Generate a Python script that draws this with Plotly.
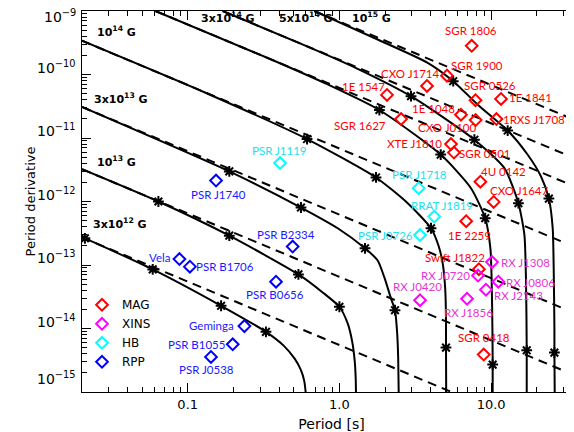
import numpy as np
import plotly.graph_objects as go

# ---------------- sources (period [s], period derivative) ----------------
MAG_NAMES = ["SGR 1806", "SGR 1900", "CXO J1714", "1E 1547", "SGR 1627", "SGR 0526",
             "1E 1841", "1E 1048", "1RXS J1708", "CXO J0100", "XTE J1810", "SGR 0501",
             "4U 0142", "CXO J1647", "1E 2259", "Swift J1822", "SGR 0418"]
MAG_P = [7.45, 5.12, 3.78, 2.06, 2.55, 7.89, 11.62, 6.33, 10.84, 7.91, 5.44, 5.69,
         8.50, 10.40, 6.85, 8.31, 8.94]
MAG_PDOT = [2.83e-10, 9.6e-11, 6.6e-11, 4.77e-11, 1.99e-11, 3.94e-11, 4.12e-11, 2.33e-11,
            1.99e-11, 1.92e-11, 8.04e-12, 5.89e-12, 2.05e-12, 9.86e-13, 4.89e-13,
            8.59e-14, 3.88e-15]

XINS_NAMES = ["RX J1308", "RX J0720", "RX J0806", "RX J2143", "RX J1856", "RX J0420"]
XINS_P = [10.14, 8.20, 11.17, 9.25, 6.94, 3.40]
XINS_PDOT = [1.11e-13, 6.81e-14, 5.46e-14, 4.09e-14, 2.94e-14, 2.79e-14]

HB_NAMES = ["PSR J1119", "PSR J1718", "RRAT J1819", "PSR J0726"]
HB_P = [0.406, 3.33, 4.22, 3.40]
HB_PDOT = [4.03e-12, 1.62e-12, 5.79e-13, 2.96e-13]

RPP_NAMES = ["PSR J1740", "PSR B2334", "PSR B1706", "Vela", "PSR B0656", "Geminga",
             "PSR B1055", "PSR J0538"]
RPP_P = [0.1537, 0.492, 0.1034, 0.0882, 0.382, 0.2365, 0.198, 0.1424]
RPP_PDOT = [2.14e-12, 1.95e-13, 9.42e-14, 1.24e-13, 5.46e-14, 1.09e-14, 5.64e-15, 3.56e-15]

# ---------------- evolutionary tracks (solid) ----------------
TRACK_3E12_P = [0.0201, 0.0210, 0.0588, 0.166, 0.328, 0.429, 0.507, 0.556, 0.586, 0.600]
TRACK_3E12_PDOT = [2.73e-13, 2.63e-13, 8.53e-14, 2.28e-14, 8.86e-15, 5.38e-15, 3.35e-15,
                   2.25e-15, 1.51e-15, 9.7e-16]
TRACK_1E13_P = [0.0201, 0.0641, 0.188, 0.537, 0.776, 1.000, 1.134, 1.214, 1.261, 1.281, 1.286]
TRACK_1E13_PDOT = [3.23e-12, 1.00e-12, 2.90e-13, 7.11e-14, 3.70e-14, 2.20e-14, 1.20e-14,
                   6.22e-15, 3.12e-15, 1.62e-15, 9.7e-16]
TRACK_3E13_P = [0.0201, 0.188, 0.558, 0.975, 1.475, 1.788, 1.989, 2.188, 2.325, 2.404,
                2.441, 2.460]
TRACK_3E13_PDOT = [3.08e-11, 2.98e-12, 8.04e-13, 3.79e-13, 1.83e-13, 1.18e-13, 6.15e-14,
                   2.97e-14, 1.94e-14, 8.33e-15, 3.35e-15, 9.7e-16]
TRACK_1E14_P = [0.0201, 0.1354, 0.612, 1.743, 2.820, 4.017, 4.514, 4.797, 4.982, 5.043,
                5.043, 5.058]
TRACK_1E14_PDOT = [3.40e-10, 4.98e-11, 9.63e-12, 2.39e-12, 9.40e-13, 3.79e-13, 1.97e-13,
                   1.06e-13, 4.27e-14, 1.44e-14, 5.00e-15, 9.7e-16]
TRACK_3E14_P = [0.0613, 0.337, 0.837, 1.835, 4.654, 7.370, 9.144, 9.894, 10.09, 10.20,
                10.24, 10.24]
TRACK_3E14_PDOT = [1.0e-9, 1.82e-10, 6.98e-11, 2.76e-11, 5.48e-12, 1.62e-12, 5.45e-13,
                   1.83e-13, 5.51e-14, 9.98e-15, 2.70e-15, 9.7e-16]
TRACK_5E14_P = [0.170, 0.618, 1.320, 2.965, 7.760, 12.24, 15.14, 16.58, 16.99, 17.17, 17.17]
TRACK_5E14_PDOT = [1.0e-9, 2.75e-10, 1.23e-10, 4.55e-11, 9.39e-12, 3.36e-12, 9.40e-13,
                   2.97e-13, 5.51e-14, 4.54e-15, 9.7e-16]
TRACK_1E15_P = [0.683, 1.788, 3.820, 5.627, 8.160, 12.86, 17.43, 21.33, 24.04, 25.47,
                25.86, 26.14, 26.14, 26.26]
TRACK_1E15_PDOT = [1.0e-9, 3.56e-10, 1.53e-10, 7.85e-11, 3.35e-11, 1.31e-11, 5.44e-12,
                   2.48e-12, 1.11e-12, 3.79e-13, 8.84e-14, 9.98e-15, 4.17e-15, 9.7e-16]

# ---------------- age markers (asterisks) on the tracks ----------------
AGE_P = [0.0210, 0.0588, 0.166, 0.328,
         0.0641, 0.188, 0.537, 1.000,
         0.188, 0.558, 1.475, 2.325,
         0.612, 1.743, 4.017, 5.043,
         1.835, 4.654, 9.144, 10.24,
         2.965, 7.760, 15.14, 17.17,
         5.627, 12.86, 24.04, 26.14]
AGE_PDOT = [2.63e-13, 8.53e-14, 2.28e-14, 8.86e-15,
            1.00e-12, 2.90e-13, 7.11e-14, 2.20e-14,
            2.98e-12, 8.04e-13, 1.83e-13, 1.94e-14,
            9.63e-12, 2.39e-12, 3.79e-13, 5.00e-15,
            2.76e-11, 5.48e-12, 5.45e-13, 2.70e-15,
            4.55e-11, 9.39e-12, 9.40e-13, 4.54e-15,
            7.85e-11, 1.31e-11, 1.11e-12, 4.17e-15]

# ---------------- constant-field lines (dashed), end points ----------------
ISOB_3E12_P, ISOB_3E12_PDOT = [0.0201, 5.63], [2.73e-13, 9.74e-16]
ISOB_1E13_P, ISOB_1E13_PDOT = [0.0201, 38.8], [3.23e-12, 1.68e-15]
ISOB_3E13_P, ISOB_3E13_PDOT = [0.0201, 38.8], [3.08e-11, 1.60e-14]
ISOB_1E14_P, ISOB_1E14_PDOT = [0.0201, 38.8], [3.40e-10, 1.76e-13]
ISOB_3E14_P, ISOB_3E14_PDOT = [0.0613, 38.8], [1.0e-9, 1.58e-12]
ISOB_5E14_P, ISOB_5E14_PDOT = [0.170, 38.8], [1.0e-9, 4.39e-12]
ISOB_1E15_P, ISOB_1E15_PDOT = [0.683, 38.8], [1.0e-9, 1.76e-11]

FIELD_LABELS = ["10<sup>14</sup> G", "3x10<sup>13</sup> G", "10<sup>13</sup> G",
                "3x10<sup>12</sup> G", "3x10<sup>14</sup> G", "5x10<sup>14</sup> G",
                "10<sup>15</sup> G"]

Y_TICK_EXP = [-9, -10, -11, -12, -13, -14, -15]

# ---------------- label placement (pixels, style only) ----------------
MAG_DX = [-1, 30, -17, -24, -41, 15, 30, -27, 38, -29, -36, 31, 23, 25, 3, -24, 0]
MAG_DY = [15, 10, 12, 8, -6, 15, 1, 6, 0, -7, 1, -1, 10, 11, -14, 12, 17]
XINS_DX = [33, -33, 32, 33, 1, -3]
XINS_DY = [0, 0, -1, -6, -14, 14]
HB_DX = [-1, 1, 8, -35]
HB_DY = [13, 14, 11, 0]
RPP_DX = [2, -7, 35, -20, -1, -33, -36, -4]
RPP_DY = [-14, 12, 0, 2, -13, 1, 0, -13]
FIELD_LABEL_POS = [(-1.468, -9.422), (-1.442, -10.480), (-1.468, -11.459), (-1.445, -12.438),
                   (-0.736, -9.200), (-0.222, -9.200), (0.213, -9.200)]

RED, MAGENTA, CYAN, BLUE = "#ff0000", "#ff00ff", "#00ffff", "#0000ff"

fig = go.Figure()

isob = [(ISOB_3E12_P, ISOB_3E12_PDOT), (ISOB_1E13_P, ISOB_1E13_PDOT),
        (ISOB_3E13_P, ISOB_3E13_PDOT), (ISOB_1E14_P, ISOB_1E14_PDOT),
        (ISOB_3E14_P, ISOB_3E14_PDOT), (ISOB_5E14_P, ISOB_5E14_PDOT),
        (ISOB_1E15_P, ISOB_1E15_PDOT)]
for px, py in isob:
    fig.add_trace(go.Scatter(x=px, y=py, mode="lines", showlegend=False,
                             line=dict(color="black", width=2, dash="9px,6px"),
                             hoverinfo="skip"))

tracks = [(TRACK_3E12_P, TRACK_3E12_PDOT), (TRACK_1E13_P, TRACK_1E13_PDOT),
          (TRACK_3E13_P, TRACK_3E13_PDOT), (TRACK_1E14_P, TRACK_1E14_PDOT),
          (TRACK_3E14_P, TRACK_3E14_PDOT), (TRACK_5E14_P, TRACK_5E14_PDOT),
          (TRACK_1E15_P, TRACK_1E15_PDOT)]
for px, py in tracks:
    fig.add_trace(go.Scatter(x=px, y=py, mode="lines", showlegend=False,
                             line=dict(color="black", width=2, shape="spline", smoothing=0.6),
                             hoverinfo="skip"))

fig.add_trace(go.Scatter(x=AGE_P, y=AGE_PDOT, mode="markers", showlegend=False,
                         marker=dict(symbol="asterisk-open", size=9, color="black",
                                     line=dict(color="black", width=2))))

groups = [("MAG", MAG_NAMES, MAG_P, MAG_PDOT, MAG_DX, MAG_DY, RED, RED),
          ("XINS", XINS_NAMES, XINS_P, XINS_PDOT, XINS_DX, XINS_DY, MAGENTA, "#e636d2"),
          ("HB", HB_NAMES, HB_P, HB_PDOT, HB_DX, HB_DY, CYAN, "#22e0f0"),
          ("RPP", RPP_NAMES, RPP_P, RPP_PDOT, RPP_DX, RPP_DY, BLUE, "#1a1aff")]

annotations = []
for name, names, ps, pds, dxs, dys, col, tcol in groups:
    fig.add_trace(go.Scatter(x=ps, y=pds, mode="markers", name=name,
                             marker=dict(symbol="diamond-open", size=9, color=col,
                                         line=dict(color=col, width=2))))
    for n, p, pd_, dx, dy in zip(names, ps, pds, dxs, dys):
        annotations.append(dict(x=np.log10(p), y=np.log10(pd_), xref="x", yref="y",
                                text=n, showarrow=False, xshift=dx, yshift=dy,
                                font=dict(family="Lato", size=11.5, color=tcol)))

for txt, (lx, ly) in zip(FIELD_LABELS, FIELD_LABEL_POS):
    annotations.append(dict(x=lx, y=ly, xref="x", yref="y", text="<b>" + txt + "</b>",
                            showarrow=False, yshift=6,
                            font=dict(family="DejaVu Sans", size=11, color="black")))

for e in Y_TICK_EXP:
    shift = 8
    if e == -9:
        shift = -5
    if e == -15:
        shift = 14
    annotations.append(dict(x=0, y=e, xref="paper", yref="y", xanchor="right",
                            yanchor="middle", xshift=-4, yshift=shift,
                            text="10<sup>\u2212%d</sup>" % (-e), showarrow=False,
                            font=dict(family="DejaVu Sans", size=14, color="black")))

fig.update_layout(
    width=574, height=432,
    margin=dict(l=74, r=1, t=3, b=48),
    paper_bgcolor="white", plot_bgcolor="white",
    annotations=annotations,
    legend=dict(x=0.0, y=0.267, xanchor="left", yanchor="top",
                bgcolor="rgba(0,0,0,0)", borderwidth=0, tracegroupgap=0,
                font=dict(family="DejaVu Sans", size=12, color="black")),
    xaxis=dict(type="log", range=[-1.6968, 1.5926], dtick=1, tickformat=".1f",
               ticks="inside", ticklen=9, tickwidth=1, tickcolor="black",
               minor=dict(ticks="inside", ticklen=5, tickwidth=1, tickcolor="black",
                          dtick="D1", showgrid=False),
               showline=True, linecolor="black", linewidth=1.3, mirror="ticks",
               showgrid=False, zeroline=False,
               tickfont=dict(family="DejaVu Sans", size=13, color="black"),
               title=dict(text="Period [s]", standoff=8,
                          font=dict(family="DejaVu Sans", size=14, color="black"))),
    yaxis=dict(type="log", range=[-15, -9], dtick=1, showticklabels=False,
               ticks="inside", ticklen=9, tickwidth=1, tickcolor="black",
               minor=dict(ticks="inside", ticklen=5, tickwidth=1, tickcolor="black",
                          dtick="D1", showgrid=False),
               showline=True, linecolor="black", linewidth=1.3, mirror="ticks",
               showgrid=False, zeroline=False,
               title=dict(text="Period derivative", standoff=42,
                          font=dict(family="DejaVu Sans", size=13, color="black"))),
)

fig.write_html("out.html")
